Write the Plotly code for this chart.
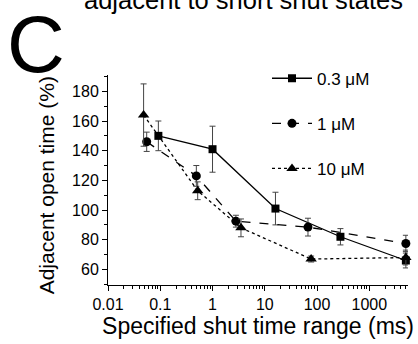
import plotly.graph_objects as go

# Specified shut time range (ms)
x_03 = [0.092, 1.0, 16, 280, 5000]
y_03 = [150, 141, 101, 82, 66]
e_03 = [10, 15.5, 11, 5.5, 5]

x_1 = [0.055, 0.49, 2.8, 67, 5000]
y_1 = [146, 123, 92.5, 88.5, 77.5]
e_1 = [6.5, 7, 4, 6, 5.5]

x_10 = [0.048, 0.52, 3.5, 77, 5000]
y_10 = [164, 113, 88, 67, 68]
e_10 = [21, 6, 6, 2, 5]

names = ["0.3 \u03bcM", "1 \u03bcM", "10 \u03bcM"]
x_ticks = [0.01, 0.1, 1, 10, 100, 1000]
x_ticklabels = ["0.01", "0.1", "1", "10", "100", "1000"]
y_ticks = [60, 80, 100, 120, 140, 160, 180]

FONT = "Liberation Sans, Arial, sans-serif"

series = [
    (x_03, y_03, e_03, names[0], "solid", "square", 8),
    (x_1, y_1, e_1, names[1], "dash", "circle", 9),
    (x_10, y_10, e_10, names[2], "dot", "triangle-up", 10),
]

W, H = 418, 344
l, r, t, b = 108, 10, 75, 52
pw, ph = W - l - r, H - t - b


def px_x(px):
    return (px - l) / pw


def px_y(py):
    return (H - b - py) / ph


fig = go.Figure()
for i, (xs, ys, es, nm, dash, sym, ms) in enumerate(series):
    fig.add_trace(go.Scatter(
        x=xs, y=ys, name=nm, mode="lines+markers", legendgroup=str(i),
        line=dict(color="black", width=1.3, dash=dash),
        marker=dict(symbol=sym, size=ms, color="black"),
        error_y=dict(type="data", array=es, visible=True, color="#444",
                     thickness=1, width=3),
        cliponaxis=False,
    ))

fig.update_layout(
    width=W, height=H,
    margin=dict(l=l, r=r, t=t, b=b),
    paper_bgcolor="white", plot_bgcolor="white",
    font=dict(family=FONT, color="black", size=16),
    legend=dict(x=0.53, y=1.068, xanchor="left", yanchor="top",
                bgcolor="rgba(0,0,0,0)", tracegroupgap=20,
                font=dict(size=17), itemwidth=40),
    annotations=[
        dict(text="C", x=px_x(36), y=px_y(43), xref="paper", yref="paper",
             xanchor="center", yanchor="middle",
             showarrow=False, font=dict(size=80, family=FONT)),
        dict(text="adjacent to short shut states", x=px_x(243), y=px_y(-2),
             xref="paper", yref="paper", xanchor="center", yanchor="middle",
             showarrow=False, font=dict(size=25.5, family=FONT)),
        dict(text="Adjacent open time (%)", x=px_x(46), y=px_y(189),
             xref="paper", yref="paper", xanchor="center", yanchor="middle",
             textangle=-90, showarrow=False, font=dict(size=21, family=FONT)),
    ],
)

fig.update_xaxes(
    type="log", range=[-2, 3.74],
    tickvals=x_ticks, ticktext=x_ticklabels,
    ticks="outside", ticklen=5, tickwidth=1, tickcolor="black",
    minor=dict(ticks="outside", ticklen=3, tickcolor="black", dtick="D1", showgrid=False),
    showline=True, linecolor="black", linewidth=1, mirror=False,
    showgrid=False, zeroline=False,
    title=dict(text="Specified shut time range (ms)", font=dict(size=23), standoff=5),
)
fig.update_yaxes(
    range=[49.5, 191],
    tickvals=y_ticks,
    ticks="outside", ticklen=5, tickwidth=1, tickcolor="black",
    minor=dict(ticks="outside", ticklen=3, tickcolor="black", dtick=10, showgrid=False),
    showline=True, linecolor="black", linewidth=1, mirror=False,
    showgrid=False, zeroline=False,
)

fig.write_html("out.html")
